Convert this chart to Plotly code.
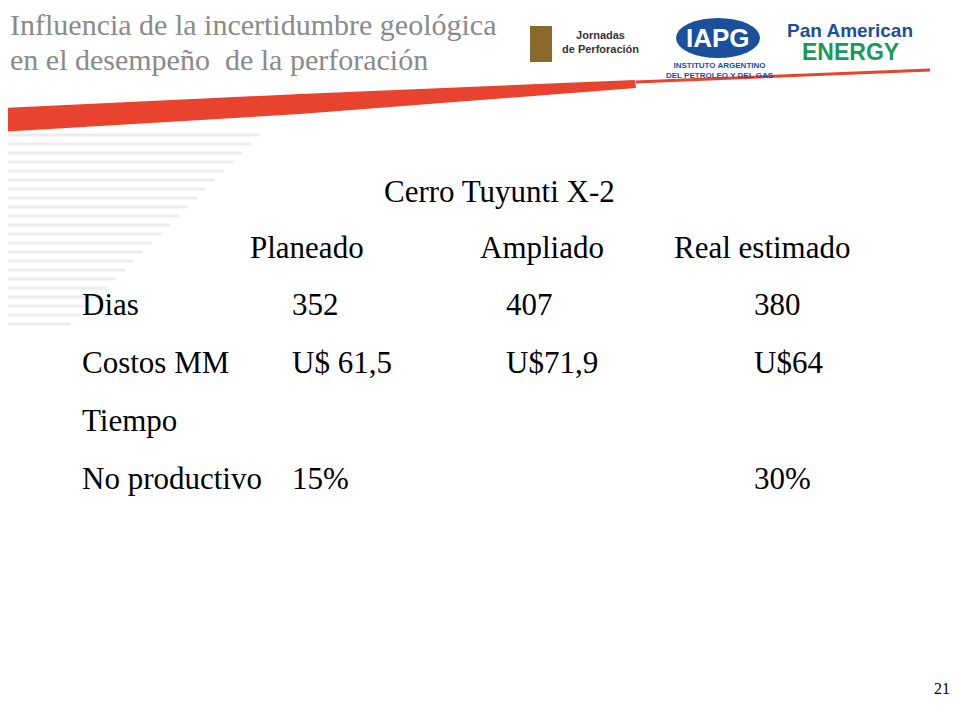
import plotly.graph_objects as go

# table content
table_title = "Cerro Tuyunti X-2"
columns = ["Planeado", "Ampliado", "Real estimado"]
row_labels = ["Dias", "Costos MM", "Tiempo", "No productivo"]
planeado = ["352", "U$ 61,5", "", "15%"]
ampliado = ["407", "U$71,9", "", ""]
real_estimado = ["380", "U$64", "", "30%"]

W, H = 960, 720
DX, DY = 8, 8  # page body margin offset
FONT = "Liberation Serif, Times New Roman, serif"

def px(x, y):
    return (x - DX) / W, 1 - (y - DY) / H

fig = go.Figure()
ann = []

def text(x, y, s, size=31, color="black", anchor="left", family=FONT, bold=False):
    xx, yy = px(x, y)
    ann.append(dict(x=xx, y=yy, xref="paper", yref="paper", text=f"<b>{s}</b>" if bold else s,
                    showarrow=False, xanchor=anchor, yanchor="middle",
                    font=dict(family=family, size=size, color=color)))

# header text
text(8, 24, "Influencia de la incertidumbre geológica", 30, "#8a8a8a")
text(8, 60, "en el desempeño  de la perforación", 30, "#8a8a8a")
text(952, 688, "21", 16, anchor="right")

# table
text(499, 191, table_title, anchor="center")
for name, cx in zip(columns, [307, 542, 762]):
    text(cx, 248, name, anchor="center")
row_y = [304, 362, 420, 478]
for lab, y in zip(row_labels, row_y):
    text(80, y, lab)
for vals, x0 in [(planeado, 290), (ampliado, 504), (real_estimado, 752)]:
    for v, y in zip(vals, row_y):
        if v:
            text(x0, y, v)

# logos (approximate)
text(560, 42, "Jornadas<br>de Perforación", 11, "#333", family="Arial", bold=True)
text(718, 38, "IAPG", 26, "white", anchor="center", family="Arial", bold=True)
text(720, 70, "INSTITUTO ARGENTINO<br>DEL PETROLEO Y DEL GAS", 8, "#1a4f9c", anchor="center", family="Arial", bold=True)
text(850, 30, "Pan American", 19, "#1a4f9c", anchor="center", family="Arial", bold=True)
text(850, 52, "ENERGY", 23, "#1a9a5a", anchor="center", family="Arial", bold=True)

shapes = []
def rect(x0, y0, x1, y1, color, kind="rect"):
    a, b = px(x0, y0); c, d = px(x1, y1)
    shapes.append(dict(type=kind, xref="paper", yref="paper", x0=a, y0=b, x1=c, y1=d,
                       fillcolor=color, line=dict(width=0), layer="below"))

# faint grey stripes on the left
for i in range(22):
    y = 135 + i * 9
    a, b = px(0, y); c, d = px(260 - i * 9, y)
    shapes.append(dict(type="line", xref="paper", yref="paper", x0=a, y0=b, x1=c, y1=d,
                       line=dict(color="#ececec", width=3), layer="below"))
rect(676, 18, 760, 58, "#1a4f9c", "circle")
rect(530, 26, 552, 62, "#8a6a2a")

# red swoosh
pts = [(0, 108), (300, 94), (635, 80), (636, 88), (300, 114), (0, 132)]
path = "M " + " L ".join(f"{(x-DX)/W},{1-(y-DY)/H}" for x, y in pts) + " Z"
shapes.append(dict(type="path", xref="paper", yref="paper", path=path,
                   fillcolor="#e8432e", line=dict(width=0), layer="below"))
a, b = px(636, 82); c, d = px(930, 70)
shapes.append(dict(type="line", xref="paper", yref="paper", x0=a, y0=b, x1=c, y1=d,
                   line=dict(color="#e8432e", width=3)))

fig.update_layout(width=W, height=H, margin=dict(l=0, r=0, t=0, b=0),
                  paper_bgcolor="white", plot_bgcolor="white",
                  xaxis=dict(visible=False), yaxis=dict(visible=False),
                  annotations=ann, shapes=shapes, showlegend=False)
fig.write_html("out.html")
